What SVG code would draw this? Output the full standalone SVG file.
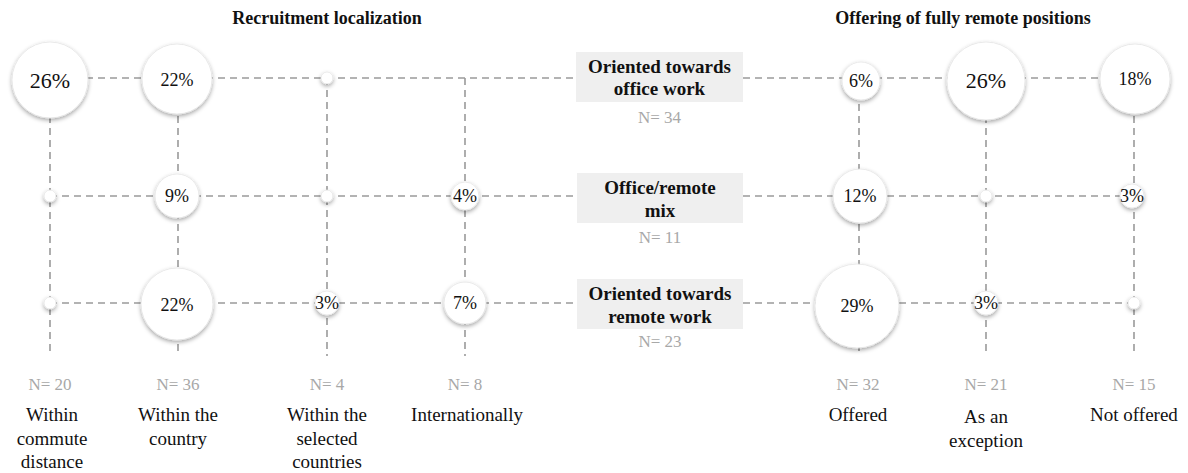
<svg xmlns="http://www.w3.org/2000/svg" width="1188" height="473" viewBox="0 0 1188 473" font-family="'Liberation Serif','Times New Roman',Times,serif">
<style>
text{font-family:'Liberation Serif','Times New Roman',Times,serif}
.ln{stroke:#9a9a9a;stroke-width:1.6;stroke-dasharray:7 5;fill:none}
.b{fill:#fff;stroke:#e6e6e6;stroke-width:0.8;filter:url(#sh)}
.t{fill:#111;text-anchor:middle;font-size:18px}
.h{font-weight:bold;font-size:18px;fill:#111;text-anchor:middle}
.bx{fill:#efefef}
.bt{font-weight:bold;font-size:19px;fill:#111;text-anchor:middle}
.n{font-size:17px;fill:#a8a8a8;text-anchor:middle}
.c{font-size:19px;fill:#111;text-anchor:middle}
</style>
<defs>
<filter id="sh" x="-50%" y="-50%" width="200%" height="200%">
<feDropShadow dx="0" dy="2" stdDeviation="2" flood-color="#000" flood-opacity="0.35"/>
</filter>
</defs>
<text class="h" x="327" y="24">Recruitment localization</text>
<text class="h" x="963" y="24">Offering of fully remote positions</text>
<g id="connectors">
<line class="ln" x1="50" y1="78" x2="576" y2="78"/>
<line class="ln" x1="743" y1="78" x2="1134" y2="78"/>
<line class="ln" x1="50" y1="196" x2="577" y2="196"/>
<line class="ln" x1="743" y1="196" x2="1134" y2="196"/>
<line class="ln" x1="50" y1="303" x2="577" y2="303"/>
<line class="ln" x1="743" y1="303" x2="1134" y2="303"/>
<line class="ln" x1="50" y1="80" x2="50" y2="356"/>
<line class="ln" x1="178" y1="80" x2="178" y2="356"/>
<line class="ln" x1="327" y1="78" x2="327" y2="356"/>
<line class="ln" x1="465" y1="78" x2="465" y2="356"/>
<line class="ln" x1="859" y1="80" x2="859" y2="356"/>
<line class="ln" x1="986" y1="80" x2="986" y2="356"/>
<line class="ln" x1="1134" y1="80" x2="1134" y2="356"/>
</g>
<g id="box-office">
<rect class="bx" x="576" y="52" width="167" height="50"/>
<text class="bt" x="659.5" y="73">Oriented towards</text>
<text class="bt" x="659.5" y="95">office work</text>
<text class="n" x="659.5" y="123">N= 34</text>
</g>
<g id="box-mix">
<rect class="bx" x="577" y="173" width="166" height="50"/>
<text class="bt" x="660" y="194">Office/remote</text>
<text class="bt" x="660" y="217">mix</text>
<text class="n" x="660" y="243">N= 11</text>
</g>
<g id="box-remote">
<rect class="bx" x="577" y="279" width="166" height="50"/>
<text class="bt" x="660" y="300">Oriented towards</text>
<text class="bt" x="660" y="323">remote work</text>
<text class="n" x="660" y="347">N= 23</text>
</g>
<g id="col-commute">
<circle class="b" cx="50" cy="80" r="38"/>
<text class="t" x="50" y="88" font-size="22" style="font-size:22px">26%</text>
<circle class="b" cx="50" cy="196" r="6"/>
<circle class="b" cx="50" cy="303" r="6"/>
<text class="n" x="50" y="390">N= 20</text>
<text class="c" x="52" y="421">Within</text>
<text class="c" x="52" y="445">commute</text>
<text class="c" x="52" y="468">distance</text>
</g>
<g id="col-country">
<circle class="b" cx="177" cy="79" r="35"/>
<text class="t" x="177" y="86">22%</text>
<circle class="b" cx="177" cy="196" r="22"/>
<text class="t" x="177" y="202">9%</text>
<circle class="b" cx="177" cy="304" r="36"/>
<text class="t" x="177" y="311">22%</text>
<text class="n" x="178" y="390">N= 36</text>
<text class="c" x="178" y="421">Within the</text>
<text class="c" x="178" y="445">country</text>
</g>
<g id="col-selected">
<circle class="b" cx="327" cy="78" r="6"/>
<circle class="b" cx="327" cy="196" r="6"/>
<circle class="b" cx="327" cy="303" r="12"/>
<text class="t" x="327" y="309">3%</text>
<text class="n" x="327" y="390">N= 4</text>
<text class="c" x="327" y="421">Within the</text>
<text class="c" x="327" y="445">selected</text>
<text class="c" x="327" y="468">countries</text>
</g>
<g id="col-intl">
<circle class="b" cx="465" cy="196" r="14"/>
<text class="t" x="465" y="202">4%</text>
<circle class="b" cx="465" cy="303" r="21"/>
<text class="t" x="465" y="309">7%</text>
<text class="n" x="465" y="390">N= 8</text>
<text class="c" x="467" y="421">Internationally</text>
</g>
<g id="col-offered">
<circle class="b" cx="861" cy="81" r="19"/>
<text class="t" x="861" y="87">6%</text>
<circle class="b" cx="860" cy="196" r="27"/>
<text class="t" x="860" y="202">12%</text>
<circle class="b" cx="857" cy="306" r="42"/>
<text class="t" x="857" y="312">29%</text>
<text class="n" x="858" y="390">N= 32</text>
<text class="c" x="858" y="421">Offered</text>
</g>
<g id="col-exception">
<circle class="b" cx="986" cy="81" r="39"/>
<text class="t" x="986" y="88" style="font-size:22px">26%</text>
<circle class="b" cx="986" cy="196" r="6"/>
<circle class="b" cx="986" cy="303" r="12"/>
<text class="t" x="986" y="309">3%</text>
<text class="n" x="986" y="390">N= 21</text>
<text class="c" x="986" y="423">As an</text>
<text class="c" x="986" y="447">exception</text>
</g>
<g id="col-notoffered">
<circle class="b" cx="1135" cy="79" r="35"/>
<text class="t" x="1135" y="85">18%</text>
<circle class="b" cx="1132" cy="196" r="12"/>
<text class="t" x="1132" y="202">3%</text>
<circle class="b" cx="1134" cy="303" r="6"/>
<text class="n" x="1134" y="390">N= 15</text>
<text class="c" x="1134" y="421">Not offered</text>
</g>
</svg>
